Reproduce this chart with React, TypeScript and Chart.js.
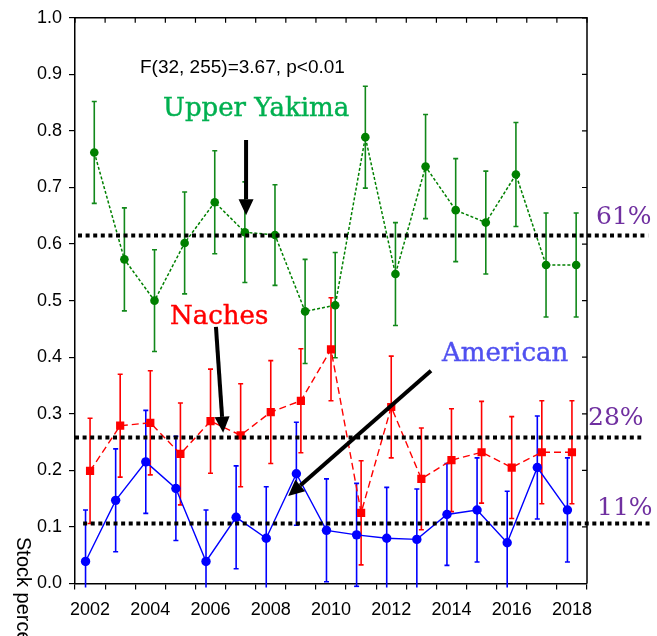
import React, { useEffect, useRef } from "react";
import { Chart, registerables } from "chart.js";

Chart.register(...registerables);

const years = [2002, 2003, 2004, 2005, 2006, 2007, 2008, 2009, 2010, 2011, 2012, 2013, 2014, 2015, 2016, 2017, 2018];
const xTickLabels = ["2002", "2004", "2006", "2008", "2010", "2012", "2014", "2016", "2018"];
const yTickLabels = ["0.0", "0.1", "0.2", "0.3", "0.4", "0.5", "0.6", "0.7", "0.8", "0.9", "1.0"];

const yakimaValues = [0.762, 0.573, 0.5, 0.602, 0.674, 0.621, 0.616, 0.481, 0.492, 0.789, 0.547, 0.737, 0.66, 0.638, 0.723, 0.563, 0.563];
const yakimaErr = [0.09, 0.091, 0.09, 0.09, 0.091, 0.089, 0.089, 0.092, 0.093, 0.09, 0.091, 0.092, 0.091, 0.091, 0.092, 0.092, 0.092];

const nachesValues = [0.199, 0.279, 0.284, 0.229, 0.287, 0.262, 0.303, 0.323, 0.414, 0.125, 0.312, 0.185, 0.218, 0.232, 0.205, 0.232, 0.232];
const nachesErr = [0.093, 0.091, 0.092, 0.09, 0.092, 0.091, 0.091, 0.092, 0.091, 0.092, 0.09, 0.09, 0.091, 0.09, 0.09, 0.091, 0.091];

const americanValues = [0.039, 0.147, 0.215, 0.168, 0.039, 0.117, 0.08, 0.194, 0.094, 0.086, 0.08, 0.078, 0.122, 0.13, 0.072, 0.205, 0.13];
const americanErr = [0.091, 0.091, 0.091, 0.092, 0.091, 0.091, 0.091, 0.091, 0.091, 0.091, 0.09, 0.089, 0.09, 0.092, 0.091, 0.091, 0.092];

const refLevels = [0.615, 0.258, 0.106];
const refLabels = ["61%", "28%", "11%"];
const statText = "F(32, 255)=3.67, p<0.01";
const yTitle = "Stock percentage (%)";

const SERIF = "'DejaVu Serif', serif";
const SANS = "'Liberation Sans', Arial, sans-serif";

const errorBarPlugin = {
  id: "errorBars",
  beforeDatasetsDraw(chart: any) {
    const { ctx, chartArea, scales } = chart;
    const x = scales.x;
    const y = scales.y;
    ctx.save();
    ctx.beginPath();
    ctx.rect(chartArea.left, chartArea.top - 2, chartArea.right - chartArea.left, chartArea.bottom - chartArea.top + 6);
    ctx.clip();
    chart.data.datasets.forEach((ds: any) => {
      const errs = ds.errors;
      if (!errs) return;
      ctx.strokeStyle = ds.errorColor;
      ctx.lineWidth = 1.6;
      ds.data.forEach((pt: any, i: number) => {
        const px = x.getPixelForValue(pt.x);
        const yt = y.getPixelForValue(pt.y + errs[i]);
        const yb = y.getPixelForValue(pt.y - errs[i]);
        ctx.beginPath();
        ctx.moveTo(px, yt);
        ctx.lineTo(px, yb);
        ctx.moveTo(px - 2.5, yt);
        ctx.lineTo(px + 2.5, yt);
        ctx.moveTo(px - 2.5, yb);
        ctx.lineTo(px + 2.5, yb);
        ctx.stroke();
      });
    });
    ctx.restore();
  },
};

const refLinePlugin = {
  id: "refLines",
  afterDatasetsDraw(chart: any) {
    const { ctx, scales } = chart;
    const x = scales.x;
    const y = scales.y;
    const starts = [2001.6, 2001.5, 2001.77];
    const ends = [2020.53, 2020.3, 2020.65];
    ctx.save();
    ctx.strokeStyle = "#000";
    ctx.lineWidth = 4;
    ctx.setLineDash([4, 3.6]);
    refLevels.forEach((lv, i) => {
      const py = y.getPixelForValue(lv);
      ctx.beginPath();
      ctx.moveTo(x.getPixelForValue(starts[i]), py);
      ctx.lineTo(x.getPixelForValue(ends[i]), py);
      ctx.stroke();
    });
    ctx.restore();
  },
};

function drawArrow(ctx: any, x1: number, y1: number, x2: number, y2: number) {
  const ang = Math.atan2(y2 - y1, x2 - x1);
  const headLen = 16;
  const headHalf = 7.5;
  const bx = x2 - headLen * Math.cos(ang);
  const by = y2 - headLen * Math.sin(ang);
  ctx.save();
  ctx.strokeStyle = "#000";
  ctx.fillStyle = "#000";
  ctx.lineWidth = 4;
  ctx.lineCap = "butt";
  ctx.beginPath();
  ctx.moveTo(x1, y1);
  ctx.lineTo(bx, by);
  ctx.stroke();
  ctx.beginPath();
  ctx.moveTo(x2, y2);
  ctx.lineTo(bx + headHalf * Math.sin(ang), by - headHalf * Math.cos(ang));
  ctx.lineTo(bx - headHalf * Math.sin(ang), by + headHalf * Math.cos(ang));
  ctx.closePath();
  ctx.fill();
  ctx.restore();
}

function heavyText(ctx: any, txt: string, x: number, y: number, color: string, w: number) {
  ctx.fillStyle = color;
  ctx.strokeStyle = color;
  ctx.lineWidth = w;
  ctx.fillText(txt, x, y);
  if (w > 0) ctx.strokeText(txt, x, y);
}

const decorPlugin = {
  id: "decor",
  afterDraw(chart: any) {
    const { ctx, chartArea, scales } = chart;
    const x = scales.x;
    const y = scales.y;
    ctx.save();
    ctx.strokeStyle = "#000";
    ctx.lineWidth = 1.5;
    ctx.beginPath();
    ctx.moveTo(chartArea.left, chartArea.top);
    ctx.lineTo(chartArea.right, chartArea.top);
    ctx.lineTo(chartArea.right, chartArea.bottom);
    ctx.stroke();
    ctx.lineWidth = 1.2;
    ctx.beginPath();
    x.ticks.forEach((t: any) => {
      const px = x.getPixelForValue(t.value);
      ctx.moveTo(px, chartArea.top);
      ctx.lineTo(px, chartArea.top + 5);
    });
    y.ticks.forEach((t: any) => {
      const py = y.getPixelForValue(t.value);
      ctx.moveTo(chartArea.right, py);
      ctx.lineTo(chartArea.right - 5, py);
    });
    ctx.stroke();

    // x tick labels (every other year), placed through the x scale
    ctx.font = `18px ${SANS}`;
    ctx.fillStyle = "#000";
    ctx.textAlign = "center";
    ctx.textBaseline = "alphabetic";
    xTickLabels.forEach((lab) => {
      ctx.fillText(lab, x.getPixelForValue(Number(lab)), chartArea.bottom + 31.5);
    });

    ctx.textAlign = "left";
    ctx.font = `19px ${SANS}`;
    ctx.fillText(statText, 140, 73);

    ctx.font = `26px ${SERIF}`;
    heavyText(ctx, "Upper Yakima", 163, 116, "#00b050", 0.45);
    heavyText(ctx, "Naches", 170, 324, "#ff0000", 0.45);
    heavyText(ctx, "American", 442, 360.5, "#5050f0", 0.45);

    ctx.font = `25px ${SERIF}`;
    const labPos = [[596, 224], [588, 425], [597, 515]];
    refLabels.forEach((lab, i) => heavyText(ctx, lab, labPos[i][0], labPos[i][1], "#7030a0", 0));

    const arrows = [
      [2007.18, 0.784, 2007.18, 0.651],
      [2006.18, 0.4535, 2006.42, 0.2664],
      [2013.32, 0.376, 2008.58, 0.1546],
    ];
    arrows.forEach((a) =>
      drawArrow(ctx, x.getPixelForValue(a[0]), y.getPixelForValue(a[1]), x.getPixelForValue(a[2]), y.getPixelForValue(a[3]))
    );

    ctx.save();
    ctx.translate(17, 537);
    ctx.rotate(Math.PI / 2);
    ctx.fillStyle = "#000";
    ctx.font = `20px ${SANS}`;
    ctx.fillText(yTitle, 0, 0);
    ctx.restore();

    ctx.restore();
  },
};

export default function App() {
  const ref = useRef<HTMLCanvasElement | null>(null);
  useEffect(() => {
    if (!ref.current) return;
    const mk = (vals: number[], off: number) => vals.map((v, i) => ({ x: years[i] + off, y: v }));
    const chart = new Chart(ref.current, {
      type: "line",
      data: {
        datasets: [
          {
            label: "American",
            data: mk(americanValues, -0.15),
            errors: americanErr,
            errorColor: "#0000ff",
            borderColor: "#0000ff",
            backgroundColor: "#0000ff",
            borderWidth: 1.4,
            pointStyle: "circle",
            pointRadius: 4.7,
            pointBorderWidth: 0,
            pointBackgroundColor: "#0000ff",
            tension: 0,
          } as any,
          {
            label: "Naches",
            data: mk(nachesValues, 0),
            errors: nachesErr,
            errorColor: "#ff0000",
            borderColor: "#ff0000",
            backgroundColor: "#ff0000",
            borderWidth: 1.4,
            borderDash: [7, 4],
            pointStyle: "rect",
            pointRadius: 5.8,
            pointBorderWidth: 0,
            pointBackgroundColor: "#ff0000",
            tension: 0,
          } as any,
          {
            label: "Upper Yakima",
            data: mk(yakimaValues, 0.14),
            errors: yakimaErr,
            errorColor: "#11881a",
            borderColor: "#008000",
            backgroundColor: "#008000",
            borderWidth: 1.5,
            borderDash: [3, 2],
            pointStyle: "circle",
            pointRadius: 4.3,
            pointBorderWidth: 0,
            pointBackgroundColor: "#008000",
            tension: 0,
          } as any,
        ],
      },
      options: {
        animation: false,
        responsive: false,
        layout: { padding: { left: 0, right: 70, top: 17.5, bottom: 0 } },
        plugins: { legend: { display: false }, tooltip: { enabled: false } },
        scales: {
          x: {
            type: "linear",
            min: 2001.5,
            max: 2018.5,
            ticks: {
              stepSize: 1,
              includeBounds: false,
              autoSkip: false,
              maxRotation: 0,
              minRotation: 0,
              display: true,
              color: "rgba(0,0,0,0)",
              font: { family: SANS, size: 18 },
            },
            grid: { drawOnChartArea: false, tickLength: 6, color: "#000", lineWidth: 1.2 },
            border: { color: "#000", width: 1.5 },
            afterFit: (s: any) => {
              s.height = 52.5;
            },
          },
          y: {
            type: "linear",
            min: 0,
            max: 1,
            ticks: {
              stepSize: 0.1,
              color: "#000",
              padding: 7,
              font: { family: SANS, size: 18 },
              callback: (_v: any, i: number) => yTickLabels[i],
            },
            grid: { drawOnChartArea: false, tickLength: 6, color: "#000", lineWidth: 1.2 },
            border: { color: "#000", width: 1.5 },
            afterFit: (s: any) => {
              s.width = 75;
            },
          },
        },
      } as any,
      plugins: [errorBarPlugin, refLinePlugin, decorPlugin],
    });
    return () => chart.destroy();
  }, []);
  return (
    <div style={{ position: "absolute", left: 0, top: 0, width: 657, height: 636, background: "#fff" }}>
      <canvas ref={ref} width={657} height={636} style={{ display: "block", width: 657, height: 636 }} />
    </div>
  );
}
